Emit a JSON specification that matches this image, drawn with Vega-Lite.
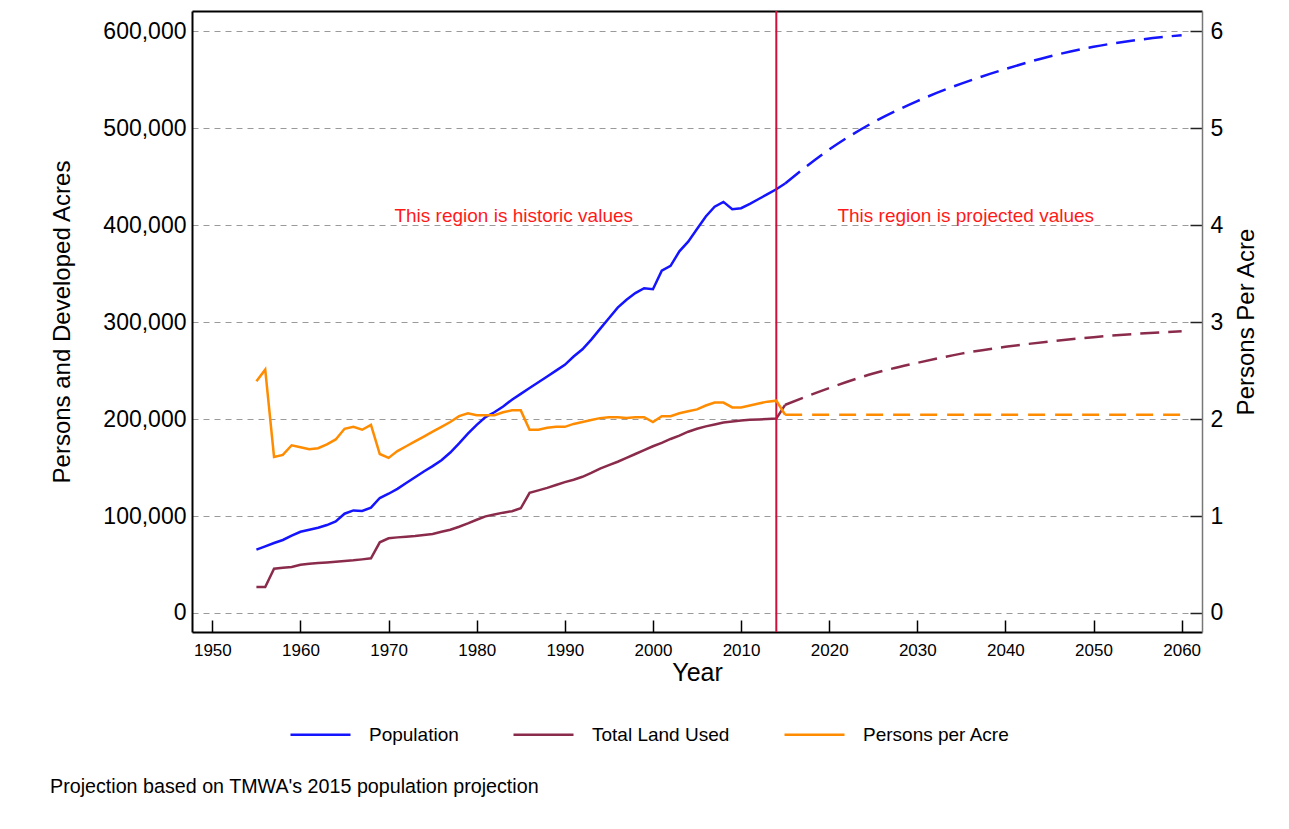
{
  "$schema": "https://vega.github.io/schema/vega-lite/v6.json",
  "width": 1010,
  "height": 621,
  "autosize": {"type": "none"},
  "padding": {"left": 192, "top": 11, "right": 87, "bottom": 197},
  "background": "white",
  "config": {
    "view": {"stroke": null},
    "font": "Liberation Sans",
    "axis": {"labelFont": "Liberation Sans", "titleFont": "Liberation Sans", "labelColor": "#000", "titleColor": "#000", "titleFontWeight": "normal"},
    "legend": {"orient": "none", "legendX": 97, "legendY": 692, "direction": "horizontal", "title": null, "symbolType": "stroke", "symbolSize": 3600, "symbolStrokeWidth": 2.5, "labelFontSize": 19, "labelFont": "Liberation Sans", "labelColor": "#000", "labelOffset": 17, "columnPadding": 49, "padding": 0}
  },
  "title": {"text": "Projection based on TMWA's 2015 population projection", "orient": "bottom", "anchor": "start", "frame": "group", "font": "Liberation Sans", "fontSize": 19.7, "fontWeight": "normal", "color": "#000", "dx": -142, "offset": 32},
  "datasets": {
    "lines": [
      {"year": 1955, "series": "Population", "type": "historic", "value": 65300},
      {"year": 1956, "series": "Population", "type": "historic", "value": 68700},
      {"year": 1957, "series": "Population", "type": "historic", "value": 72200},
      {"year": 1958, "series": "Population", "type": "historic", "value": 75300},
      {"year": 1959, "series": "Population", "type": "historic", "value": 79700},
      {"year": 1960, "series": "Population", "type": "historic", "value": 83800},
      {"year": 1961, "series": "Population", "type": "historic", "value": 85900},
      {"year": 1962, "series": "Population", "type": "historic", "value": 88000},
      {"year": 1963, "series": "Population", "type": "historic", "value": 90700},
      {"year": 1964, "series": "Population", "type": "historic", "value": 94500},
      {"year": 1965, "series": "Population", "type": "historic", "value": 102400},
      {"year": 1966, "series": "Population", "type": "historic", "value": 105800},
      {"year": 1967, "series": "Population", "type": "historic", "value": 105200},
      {"year": 1968, "series": "Population", "type": "historic", "value": 108600},
      {"year": 1969, "series": "Population", "type": "historic", "value": 118600},
      {"year": 1970, "series": "Population", "type": "historic", "value": 123000},
      {"year": 1971, "series": "Population", "type": "historic", "value": 128000},
      {"year": 1972, "series": "Population", "type": "historic", "value": 134000},
      {"year": 1973, "series": "Population", "type": "historic", "value": 140000},
      {"year": 1974, "series": "Population", "type": "historic", "value": 146000},
      {"year": 1975, "series": "Population", "type": "historic", "value": 151500},
      {"year": 1976, "series": "Population", "type": "historic", "value": 157500},
      {"year": 1977, "series": "Population", "type": "historic", "value": 165500},
      {"year": 1978, "series": "Population", "type": "historic", "value": 175000},
      {"year": 1979, "series": "Population", "type": "historic", "value": 185000},
      {"year": 1980, "series": "Population", "type": "historic", "value": 194000},
      {"year": 1981, "series": "Population", "type": "historic", "value": 202000},
      {"year": 1982, "series": "Population", "type": "historic", "value": 207000},
      {"year": 1983, "series": "Population", "type": "historic", "value": 213000},
      {"year": 1984, "series": "Population", "type": "historic", "value": 220000},
      {"year": 1985, "series": "Population", "type": "historic", "value": 226000},
      {"year": 1986, "series": "Population", "type": "historic", "value": 232000},
      {"year": 1987, "series": "Population", "type": "historic", "value": 238000},
      {"year": 1988, "series": "Population", "type": "historic", "value": 244000},
      {"year": 1989, "series": "Population", "type": "historic", "value": 250000},
      {"year": 1990, "series": "Population", "type": "historic", "value": 256000},
      {"year": 1991, "series": "Population", "type": "historic", "value": 264500},
      {"year": 1992, "series": "Population", "type": "historic", "value": 272000},
      {"year": 1993, "series": "Population", "type": "historic", "value": 282000},
      {"year": 1994, "series": "Population", "type": "historic", "value": 293000},
      {"year": 1995, "series": "Population", "type": "historic", "value": 304000},
      {"year": 1996, "series": "Population", "type": "historic", "value": 315000},
      {"year": 1997, "series": "Population", "type": "historic", "value": 323000},
      {"year": 1998, "series": "Population", "type": "historic", "value": 330000},
      {"year": 1999, "series": "Population", "type": "historic", "value": 335000},
      {"year": 2000, "series": "Population", "type": "historic", "value": 334000},
      {"year": 2001, "series": "Population", "type": "historic", "value": 353000},
      {"year": 2002, "series": "Population", "type": "historic", "value": 358000},
      {"year": 2003, "series": "Population", "type": "historic", "value": 373000},
      {"year": 2004, "series": "Population", "type": "historic", "value": 383000},
      {"year": 2005, "series": "Population", "type": "historic", "value": 396000},
      {"year": 2006, "series": "Population", "type": "historic", "value": 409000},
      {"year": 2007, "series": "Population", "type": "historic", "value": 419000},
      {"year": 2008, "series": "Population", "type": "historic", "value": 424000},
      {"year": 2009, "series": "Population", "type": "historic", "value": 416500},
      {"year": 2010, "series": "Population", "type": "historic", "value": 417500},
      {"year": 2011, "series": "Population", "type": "historic", "value": 422000},
      {"year": 2012, "series": "Population", "type": "historic", "value": 427000},
      {"year": 2013, "series": "Population", "type": "historic", "value": 432000},
      {"year": 2014, "series": "Population", "type": "historic", "value": 437000},
      {"year": 2015, "series": "Population", "type": "historic", "value": 443000},
      {"year": 2015, "series": "Population", "type": "projected", "value": 443000},
      {"year": 2020, "series": "Population", "type": "projected", "value": 478000},
      {"year": 2025, "series": "Population", "type": "projected", "value": 506000},
      {"year": 2030, "series": "Population", "type": "projected", "value": 528000},
      {"year": 2035, "series": "Population", "type": "projected", "value": 546000},
      {"year": 2040, "series": "Population", "type": "projected", "value": 561000},
      {"year": 2045, "series": "Population", "type": "projected", "value": 574000},
      {"year": 2050, "series": "Population", "type": "projected", "value": 584000},
      {"year": 2055, "series": "Population", "type": "projected", "value": 591000},
      {"year": 2060, "series": "Population", "type": "projected", "value": 596000},
      {"year": 1955, "series": "Total Land Used", "type": "historic", "value": 26800},
      {"year": 1956, "series": "Total Land Used", "type": "historic", "value": 26800},
      {"year": 1957, "series": "Total Land Used", "type": "historic", "value": 45700},
      {"year": 1958, "series": "Total Land Used", "type": "historic", "value": 46700},
      {"year": 1959, "series": "Total Land Used", "type": "historic", "value": 47400},
      {"year": 1960, "series": "Total Land Used", "type": "historic", "value": 49800},
      {"year": 1961, "series": "Total Land Used", "type": "historic", "value": 50900},
      {"year": 1962, "series": "Total Land Used", "type": "historic", "value": 51500},
      {"year": 1963, "series": "Total Land Used", "type": "historic", "value": 52200},
      {"year": 1964, "series": "Total Land Used", "type": "historic", "value": 52900},
      {"year": 1965, "series": "Total Land Used", "type": "historic", "value": 53600},
      {"year": 1966, "series": "Total Land Used", "type": "historic", "value": 54300},
      {"year": 1967, "series": "Total Land Used", "type": "historic", "value": 55300},
      {"year": 1968, "series": "Total Land Used", "type": "historic", "value": 56400},
      {"year": 1969, "series": "Total Land Used", "type": "historic", "value": 72900},
      {"year": 1970, "series": "Total Land Used", "type": "historic", "value": 77000},
      {"year": 1971, "series": "Total Land Used", "type": "historic", "value": 78000},
      {"year": 1972, "series": "Total Land Used", "type": "historic", "value": 78700},
      {"year": 1973, "series": "Total Land Used", "type": "historic", "value": 79400},
      {"year": 1974, "series": "Total Land Used", "type": "historic", "value": 80400},
      {"year": 1975, "series": "Total Land Used", "type": "historic", "value": 81400},
      {"year": 1976, "series": "Total Land Used", "type": "historic", "value": 83800},
      {"year": 1977, "series": "Total Land Used", "type": "historic", "value": 85900},
      {"year": 1978, "series": "Total Land Used", "type": "historic", "value": 89000},
      {"year": 1979, "series": "Total Land Used", "type": "historic", "value": 92400},
      {"year": 1980, "series": "Total Land Used", "type": "historic", "value": 96200},
      {"year": 1981, "series": "Total Land Used", "type": "historic", "value": 99700},
      {"year": 1982, "series": "Total Land Used", "type": "historic", "value": 101500},
      {"year": 1983, "series": "Total Land Used", "type": "historic", "value": 103500},
      {"year": 1984, "series": "Total Land Used", "type": "historic", "value": 105000},
      {"year": 1985, "series": "Total Land Used", "type": "historic", "value": 108000},
      {"year": 1986, "series": "Total Land Used", "type": "historic", "value": 124000},
      {"year": 1987, "series": "Total Land Used", "type": "historic", "value": 126500},
      {"year": 1988, "series": "Total Land Used", "type": "historic", "value": 129000},
      {"year": 1989, "series": "Total Land Used", "type": "historic", "value": 132000},
      {"year": 1990, "series": "Total Land Used", "type": "historic", "value": 135000},
      {"year": 1991, "series": "Total Land Used", "type": "historic", "value": 137500},
      {"year": 1992, "series": "Total Land Used", "type": "historic", "value": 140500},
      {"year": 1993, "series": "Total Land Used", "type": "historic", "value": 144500},
      {"year": 1994, "series": "Total Land Used", "type": "historic", "value": 149000},
      {"year": 1995, "series": "Total Land Used", "type": "historic", "value": 152500},
      {"year": 1996, "series": "Total Land Used", "type": "historic", "value": 156000},
      {"year": 1997, "series": "Total Land Used", "type": "historic", "value": 160000},
      {"year": 1998, "series": "Total Land Used", "type": "historic", "value": 164000},
      {"year": 1999, "series": "Total Land Used", "type": "historic", "value": 168000},
      {"year": 2000, "series": "Total Land Used", "type": "historic", "value": 172000},
      {"year": 2001, "series": "Total Land Used", "type": "historic", "value": 175500},
      {"year": 2002, "series": "Total Land Used", "type": "historic", "value": 179500},
      {"year": 2003, "series": "Total Land Used", "type": "historic", "value": 183000},
      {"year": 2004, "series": "Total Land Used", "type": "historic", "value": 187000},
      {"year": 2005, "series": "Total Land Used", "type": "historic", "value": 190000},
      {"year": 2006, "series": "Total Land Used", "type": "historic", "value": 192500},
      {"year": 2007, "series": "Total Land Used", "type": "historic", "value": 194500},
      {"year": 2008, "series": "Total Land Used", "type": "historic", "value": 196500},
      {"year": 2009, "series": "Total Land Used", "type": "historic", "value": 197500},
      {"year": 2010, "series": "Total Land Used", "type": "historic", "value": 198500},
      {"year": 2011, "series": "Total Land Used", "type": "historic", "value": 199200},
      {"year": 2012, "series": "Total Land Used", "type": "historic", "value": 199700},
      {"year": 2013, "series": "Total Land Used", "type": "historic", "value": 200100},
      {"year": 2014, "series": "Total Land Used", "type": "historic", "value": 200500},
      {"year": 2015, "series": "Total Land Used", "type": "historic", "value": 214700},
      {"year": 2015, "series": "Total Land Used", "type": "projected", "value": 214700},
      {"year": 2020, "series": "Total Land Used", "type": "projected", "value": 232000},
      {"year": 2025, "series": "Total Land Used", "type": "projected", "value": 247000},
      {"year": 2030, "series": "Total Land Used", "type": "projected", "value": 258000},
      {"year": 2035, "series": "Total Land Used", "type": "projected", "value": 267500},
      {"year": 2040, "series": "Total Land Used", "type": "projected", "value": 274500},
      {"year": 2045, "series": "Total Land Used", "type": "projected", "value": 280000},
      {"year": 2050, "series": "Total Land Used", "type": "projected", "value": 284500},
      {"year": 2055, "series": "Total Land Used", "type": "projected", "value": 288000},
      {"year": 2060, "series": "Total Land Used", "type": "projected", "value": 290500},
      {"year": 1955, "series": "Persons per Acre", "type": "historic", "value": 2.39},
      {"year": 1956, "series": "Persons per Acre", "type": "historic", "value": 2.51},
      {"year": 1957, "series": "Persons per Acre", "type": "historic", "value": 1.61},
      {"year": 1958, "series": "Persons per Acre", "type": "historic", "value": 1.63},
      {"year": 1959, "series": "Persons per Acre", "type": "historic", "value": 1.73},
      {"year": 1960, "series": "Persons per Acre", "type": "historic", "value": 1.71},
      {"year": 1961, "series": "Persons per Acre", "type": "historic", "value": 1.69},
      {"year": 1962, "series": "Persons per Acre", "type": "historic", "value": 1.70},
      {"year": 1963, "series": "Persons per Acre", "type": "historic", "value": 1.74},
      {"year": 1964, "series": "Persons per Acre", "type": "historic", "value": 1.79},
      {"year": 1965, "series": "Persons per Acre", "type": "historic", "value": 1.90},
      {"year": 1966, "series": "Persons per Acre", "type": "historic", "value": 1.92},
      {"year": 1967, "series": "Persons per Acre", "type": "historic", "value": 1.89},
      {"year": 1968, "series": "Persons per Acre", "type": "historic", "value": 1.94},
      {"year": 1969, "series": "Persons per Acre", "type": "historic", "value": 1.64},
      {"year": 1970, "series": "Persons per Acre", "type": "historic", "value": 1.60},
      {"year": 1971, "series": "Persons per Acre", "type": "historic", "value": 1.67},
      {"year": 1972, "series": "Persons per Acre", "type": "historic", "value": 1.72},
      {"year": 1973, "series": "Persons per Acre", "type": "historic", "value": 1.77},
      {"year": 1974, "series": "Persons per Acre", "type": "historic", "value": 1.82},
      {"year": 1975, "series": "Persons per Acre", "type": "historic", "value": 1.87},
      {"year": 1976, "series": "Persons per Acre", "type": "historic", "value": 1.92},
      {"year": 1977, "series": "Persons per Acre", "type": "historic", "value": 1.97},
      {"year": 1978, "series": "Persons per Acre", "type": "historic", "value": 2.03},
      {"year": 1979, "series": "Persons per Acre", "type": "historic", "value": 2.06},
      {"year": 1980, "series": "Persons per Acre", "type": "historic", "value": 2.04},
      {"year": 1981, "series": "Persons per Acre", "type": "historic", "value": 2.04},
      {"year": 1982, "series": "Persons per Acre", "type": "historic", "value": 2.04},
      {"year": 1983, "series": "Persons per Acre", "type": "historic", "value": 2.07},
      {"year": 1984, "series": "Persons per Acre", "type": "historic", "value": 2.09},
      {"year": 1985, "series": "Persons per Acre", "type": "historic", "value": 2.09},
      {"year": 1986, "series": "Persons per Acre", "type": "historic", "value": 1.89},
      {"year": 1987, "series": "Persons per Acre", "type": "historic", "value": 1.89},
      {"year": 1988, "series": "Persons per Acre", "type": "historic", "value": 1.91},
      {"year": 1989, "series": "Persons per Acre", "type": "historic", "value": 1.92},
      {"year": 1990, "series": "Persons per Acre", "type": "historic", "value": 1.92},
      {"year": 1991, "series": "Persons per Acre", "type": "historic", "value": 1.95},
      {"year": 1992, "series": "Persons per Acre", "type": "historic", "value": 1.97},
      {"year": 1993, "series": "Persons per Acre", "type": "historic", "value": 1.99},
      {"year": 1994, "series": "Persons per Acre", "type": "historic", "value": 2.01},
      {"year": 1995, "series": "Persons per Acre", "type": "historic", "value": 2.02},
      {"year": 1996, "series": "Persons per Acre", "type": "historic", "value": 2.02},
      {"year": 1997, "series": "Persons per Acre", "type": "historic", "value": 2.01},
      {"year": 1998, "series": "Persons per Acre", "type": "historic", "value": 2.02},
      {"year": 1999, "series": "Persons per Acre", "type": "historic", "value": 2.02},
      {"year": 2000, "series": "Persons per Acre", "type": "historic", "value": 1.97},
      {"year": 2001, "series": "Persons per Acre", "type": "historic", "value": 2.03},
      {"year": 2002, "series": "Persons per Acre", "type": "historic", "value": 2.03},
      {"year": 2003, "series": "Persons per Acre", "type": "historic", "value": 2.06},
      {"year": 2004, "series": "Persons per Acre", "type": "historic", "value": 2.08},
      {"year": 2005, "series": "Persons per Acre", "type": "historic", "value": 2.10},
      {"year": 2006, "series": "Persons per Acre", "type": "historic", "value": 2.14},
      {"year": 2007, "series": "Persons per Acre", "type": "historic", "value": 2.17},
      {"year": 2008, "series": "Persons per Acre", "type": "historic", "value": 2.17},
      {"year": 2009, "series": "Persons per Acre", "type": "historic", "value": 2.12},
      {"year": 2010, "series": "Persons per Acre", "type": "historic", "value": 2.12},
      {"year": 2011, "series": "Persons per Acre", "type": "historic", "value": 2.14},
      {"year": 2012, "series": "Persons per Acre", "type": "historic", "value": 2.16},
      {"year": 2013, "series": "Persons per Acre", "type": "historic", "value": 2.18},
      {"year": 2014, "series": "Persons per Acre", "type": "historic", "value": 2.19},
      {"year": 2015, "series": "Persons per Acre", "type": "historic", "value": 2.045},
      {"year": 2015, "series": "Persons per Acre", "type": "projected", "value": 2.045},
      {"year": 2020, "series": "Persons per Acre", "type": "projected", "value": 2.045},
      {"year": 2025, "series": "Persons per Acre", "type": "projected", "value": 2.045},
      {"year": 2030, "series": "Persons per Acre", "type": "projected", "value": 2.045},
      {"year": 2035, "series": "Persons per Acre", "type": "projected", "value": 2.045},
      {"year": 2040, "series": "Persons per Acre", "type": "projected", "value": 2.045},
      {"year": 2045, "series": "Persons per Acre", "type": "projected", "value": 2.045},
      {"year": 2050, "series": "Persons per Acre", "type": "projected", "value": 2.045},
      {"year": 2055, "series": "Persons per Acre", "type": "projected", "value": 2.045},
      {"year": 2060, "series": "Persons per Acre", "type": "projected", "value": 2.045}
    ]
  },
  "data": {"name": "lines"},
  "layer": [
    {
      "layer": [
        {
          "transform": [{"filter": "datum.type === 'historic' && datum.series !== 'Persons per Acre'"}],
          "mark": {"type": "line", "strokeWidth": 2.5},
          "encoding": {
            "x": {"field": "year", "type": "quantitative", "scale": {"domain": [1947.69, 2062.31], "nice": false, "zero": false},
              "axis": {"orient": "bottom", "values": [1950, 1960, 1970, 1980, 1990, 2000, 2010, 2020, 2030, 2040, 2050, 2060], "format": "d", "labelFontSize": 17, "tickSize": -12, "tickColor": "#000", "tickWidth": 1.5, "labelPadding": 22, "domainColor": "#000", "domainWidth": 2, "grid": false, "title": "Year", "titleFontSize": 25, "titlePadding": 2}},
            "y": {"field": "value", "type": "quantitative", "scale": {"domain": [-19600, 620900], "nice": false, "zero": false},
              "axis": {"orient": "left", "values": [0, 100000, 200000, 300000, 400000, 500000, 600000], "format": ",d", "labelFontSize": 23, "ticks": false, "labelPadding": 6, "domainColor": "#000", "domainWidth": 2, "grid": true, "gridColor": "#9a9a9a", "gridDash": [6, 5], "gridWidth": 1, "title": "Persons and Developed Acres", "titleFontSize": 24, "titlePadding": 28}},
            "color": {"field": "series", "type": "nominal", "scale": {"domain": ["Population", "Total Land Used", "Persons per Acre"], "range": ["#1414ff", "#8b2b4b", "#ff8c00"]}}
          }
        },
        {
          "transform": [{"filter": "datum.type === 'projected' && datum.series !== 'Persons per Acre'"}],
          "mark": {"type": "line", "strokeWidth": 2.5, "strokeDash": [19, 9], "interpolate": "monotone"},
          "encoding": {
            "x": {"field": "year", "type": "quantitative"},
            "y": {"field": "value", "type": "quantitative"},
            "color": {"field": "series", "type": "nominal"}
          }
        },
        {
          "data": {"values": [{"year": 2014}]},
          "mark": {"type": "rule", "color": "#d0103a", "strokeWidth": 2},
          "encoding": {"x": {"field": "year", "type": "quantitative"}}
        },
        {
          "data": {"values": [
            {"year": 1984.2, "value": 409000, "label": "This region is historic values"},
            {"year": 2035.5, "value": 409000, "label": "This region is projected values"}
          ]},
          "mark": {"type": "text", "color": "#ff1a1a", "fontSize": 19, "font": "Liberation Sans", "align": "center", "baseline": "middle"},
          "encoding": {
            "x": {"field": "year", "type": "quantitative"},
            "y": {"field": "value", "type": "quantitative"},
            "text": {"field": "label"}
          }
        }
      ]
    },
    {
      "layer": [
        {
          "transform": [{"filter": "datum.type === 'historic' && datum.series === 'Persons per Acre'"}],
          "mark": {"type": "line", "strokeWidth": 2.5},
          "encoding": {
            "x": {"field": "year", "type": "quantitative", "axis": {"orient": "top", "labels": false, "ticks": false, "domainColor": "#000", "domainWidth": 2, "grid": false, "title": null}},
            "y": {"field": "value", "type": "quantitative", "scale": {"domain": [-0.196, 6.209], "nice": false, "zero": false},
              "axis": {"orient": "right", "values": [0, 1, 2, 3, 4, 5, 6], "format": "d", "labelFontSize": 23, "tickSize": -12, "tickColor": "#222", "tickWidth": 1.5, "labelPadding": 20, "domainColor": "#777", "domainWidth": 1.5, "grid": false, "title": "Persons Per Acre", "titleFontSize": 24, "titleAngle": 270, "titleBaseline": "top", "titlePadding": 12}},
            "color": {"field": "series", "type": "nominal"}
          }
        },
        {
          "transform": [{"filter": "datum.type === 'projected' && datum.series === 'Persons per Acre'"}],
          "mark": {"type": "line", "strokeWidth": 2.5, "strokeDash": [17, 10]},
          "encoding": {
            "x": {"field": "year", "type": "quantitative"},
            "y": {"field": "value", "type": "quantitative"},
            "color": {"field": "series", "type": "nominal"}
          }
        }
      ]
    }
  ],
  "resolve": {"scale": {"y": "independent"}, "axis": {"x": "independent"}}
}
